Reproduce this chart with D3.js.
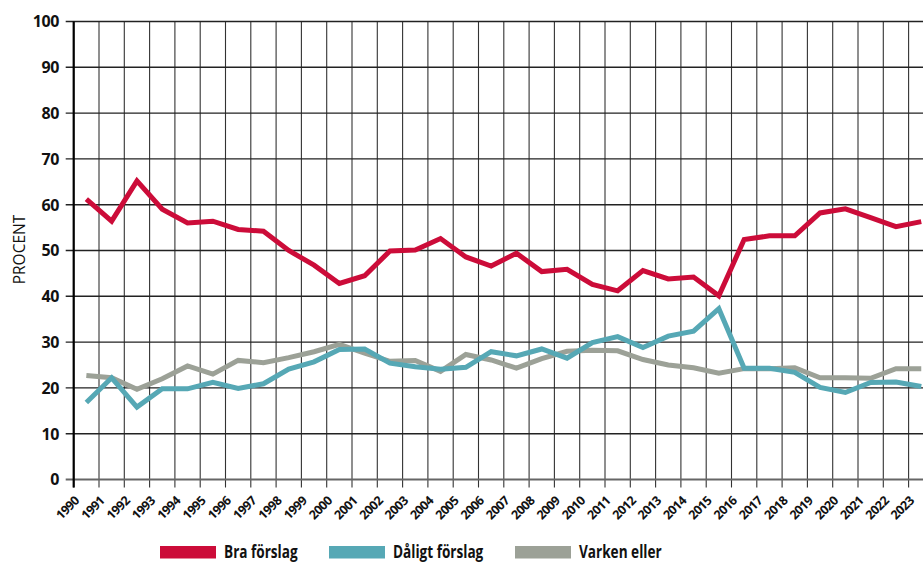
<!DOCTYPE html>
<html>
<head>
<meta charset="utf-8">
<script src="https://cdn.jsdelivr.net/npm/d3@7/dist/d3.min.js"></script>
<style>
  html, body { margin: 0; padding: 0; background: #fff; }
  svg { display: block; }
  text { font-family: "Open Sans", "Noto Sans", sans-serif; fill: #111; }
</style>
</head>
<body>
<svg id="chart" width="923" height="563"></svg>
<script>
// ---- data ----
const years = d3.range(1990, 2024);
const yTicks = [0, 10, 20, 30, 40, 50, 60, 70, 80, 90, 100];
const seriesNames = ["Bra förslag", "Dåligt förslag", "Varken eller"];
const braForslag = [61.2, 56.4, 65.2, 59.0, 56.0, 56.4, 54.6, 54.2, 50.0, 46.8,
  42.8, 44.5, 49.9, 50.1, 52.6, 48.6, 46.6, 49.4, 45.4, 45.9,
  42.6, 41.2, 45.6, 43.8, 44.2, 40.1, 52.4, 53.2, 53.2, 58.2,
  59.1, 57.2, 55.2, 56.3];
const daligtForslag = [16.8, 22.2, 15.8, 19.8, 19.8, 21.2, 19.9, 20.9, 24.1, 25.7,
  28.4, 28.5, 25.4, 24.6, 24.1, 24.5, 27.9, 27.0, 28.5, 26.5,
  29.9, 31.2, 28.8, 31.3, 32.4, 37.3, 24.3, 24.3, 23.4, 20.1,
  19.0, 21.2, 21.3, 20.3];
const varkenEller = [22.7, 22.2, 19.7, 22.0, 24.8, 23.0, 26.0, 25.5, 26.6, 27.9,
  29.5, 27.6, 25.8, 26.0, 23.6, 27.3, 26.1, 24.3, 26.4, 28.0,
  28.2, 28.1, 26.2, 25.0, 24.4, 23.2, 24.2, 24.2, 24.4, 22.2,
  22.2, 22.1, 24.2, 24.2];
const colors = ["#cc0c39", "#56a8b5", "#9ca197"];

// ---- layout ----
const svg = d3.select("#chart");
const x0 = 73.7, step = 25.3;
const x = d3.scaleLinear().domain([1990, 2024]).range([x0, x0 + 34 * step]);
const y = d3.scaleLinear().domain([0, 100]).range([479.5, 21.5]);

// vertical grid lines (year boundaries) extending below axis
svg.append("g").selectAll("line").data(years.concat([2024])).join("line")
  .attr("x1", d => x(d)).attr("x2", d => x(d))
  .attr("y1", y(100)).attr("y2", y(0) + 8)
  .attr("stroke", "#333").attr("stroke-width", 1.1);

// horizontal grid lines
svg.append("g").selectAll("line").data(yTicks).join("line")
  .attr("x1", x0 - 8).attr("x2", 940)
  .attr("y1", d => y(d)).attr("y2", d => y(d))
  .attr("stroke", d => d === 0 ? "#666" : "#222")
  .attr("stroke-width", d => d === 0 ? 2 : 1.4);

// y axis line
svg.append("line")
  .attr("x1", x0).attr("x2", x0).attr("y1", y(100)).attr("y2", y(0) + 8)
  .attr("stroke", "#000").attr("stroke-width", 2.2);

// y tick labels
svg.append("g").selectAll("text").data(yTicks).join("text")
  .attr("x", 59).attr("y", d => y(d) + 5.8)
  .attr("text-anchor", "end")
  .attr("font-size", 16).attr("font-weight", 700)
  .attr("letter-spacing", -0.4)
  .text(d => d);

// x tick labels
svg.append("g").selectAll("text").data(years).join("text")
  .attr("text-anchor", "end")
  .attr("font-size", 12.5).attr("font-weight", 700)
  .attr("letter-spacing", -0.5)
  .attr("transform", d => `translate(${x(d) + 6.3},${y(0) + 22}) rotate(-45)`)
  .text(d => d);

// y axis title
svg.append("text")
  .attr("transform", `translate(24.5,${(y(0) + y(100)) / 2 - 1}) rotate(-90)`)
  .attr("text-anchor", "middle")
  .attr("font-size", 15.5).attr("font-weight", 400)
  .text("PROCENT");

// lines
const seriesData = [braForslag, daligtForslag, varkenEller];
const line = d3.line().x((d, i) => x(years[i] + 0.5)).y(d => y(d));
const drawOrder = [2, 1, 0];
svg.append("g").selectAll("path").data(drawOrder).join("path")
  .attr("d", k => line(seriesData[k]))
  .attr("fill", "none")
  .attr("stroke", k => colors[k])
  .attr("stroke-width", 5)
  .attr("stroke-linejoin", "miter")
  .attr("stroke-miterlimit", 4);

// legend
const legendX = [160, 329, 515];
const lg = svg.append("g").selectAll("g").data(seriesNames).join("g")
  .attr("transform", (d, i) => `translate(${legendX[i]},546)`);
lg.append("rect").attr("width", 56).attr("height", 12.5)
  .attr("fill", (d, i) => colors[i]);
lg.append("text")
  .attr("transform", "translate(64,12.3) scale(0.8,1)")
  .attr("font-size", 17).attr("font-weight", 700)
  .text(d => d);
</script>
</body>
</html>
